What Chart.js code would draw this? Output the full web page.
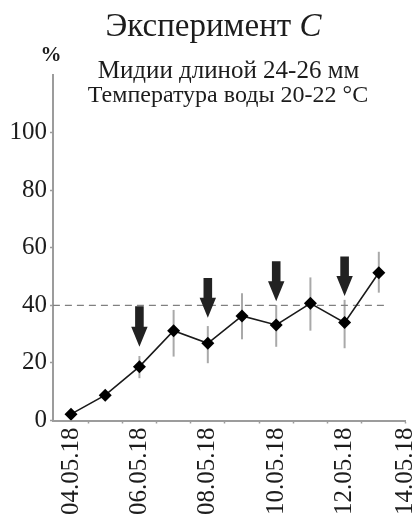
<!DOCTYPE html>
<html>
<head>
<meta charset="utf-8">
<script src="https://cdn.jsdelivr.net/npm/chart.js@4/dist/chart.umd.min.js"></script>
<style>
html,body{margin:0;padding:0;background:#fff;}
#wrap{width:419px;height:519px;}
</style>
</head>
<body>
<div id="wrap"><canvas id="c" width="419" height="519"></canvas></div>
<script>
// ---- data ----
const dates = ['04.05.18','05.05.18','06.05.18','07.05.18','08.05.18','09.05.18','10.05.18','11.05.18','12.05.18','13.05.18'];
const dayIndex = [0,1,2,3,4,5,6,7,8,9];
const values = [2.2, 8.8, 18.7, 31.2, 26.8, 36.3, 33.2, 40.7, 34.0, 51.3];
const errHigh = [2.2, 8.8, 22.4, 38.4, 32.8, 44.2, 40.1, 49.7, 41.9, 58.6];
const errLow  = [2.2, 8.8, 14.7, 22.2, 19.9, 28.2, 25.6, 31.2, 25.1, 44.4];
const arrowDays = [2, 4, 6, 8];
const arrowTop  = [39.7, 49.5, 55.3, 57.0];
const arrowTip  = [25.6, 35.7, 41.4, 43.2];
const refLevel = 40;
const refSpan = [-0.53, 9.24];
const xTickLabels = ['04.05.18','06.05.18','08.05.18','10.05.18','12.05.18','14.05.18'];
const xTickDays = [0, 2, 4, 6, 8, 10];
const xMinorDays = [0.5, 1.5, 2.5, 3.5, 4.5, 5.5, 6.5, 7.5, 8.5];
const yTickValues = [0, 20, 40, 60, 80, 100];
const xRange = [-0.527, 9.766];
const yRange = [0, 120];

const titleText = 'Эксперимент ';
const titleLetter = 'C';
const subLines = ['Мидии длиной 24-26 мм', 'Температура воды 20-22 °C'];
const yUnit = '%';

const SERIF = '"Liberation Serif", "Times New Roman", serif';
const TXT = '#1c1c1c';
const AXIS = '#9c9c9c';

const textPlugin = {
  id: 'texts',
  afterDraw(chart) {
    const ctx = chart.ctx;
    ctx.save();
    ctx.fillStyle = TXT;
    ctx.textBaseline = 'alphabetic';
    ctx.textAlign = 'left';
    ctx.font = '33px ' + SERIF;
    const w1 = ctx.measureText(titleText).width;
    ctx.font = 'italic 33px ' + SERIF;
    const w2 = ctx.measureText(titleLetter).width;
    const tx = 213.5 - (w1 + w2) / 2;
    ctx.font = '33px ' + SERIF;
    ctx.fillText(titleText, tx, 36);
    ctx.font = 'italic 33px ' + SERIF;
    ctx.fillText(titleLetter, tx + w1, 36);
    ctx.textAlign = 'center';
    ctx.font = '25px ' + SERIF;
    ctx.fillText(subLines[0], 228.5, 78);
    ctx.font = '24px ' + SERIF;
    ctx.fillText(subLines[1], 228, 102);
    ctx.font = 'bold 21px ' + SERIF;
    ctx.fillText(yUnit, 51, 61);
    ctx.restore();
  }
};

const errPlugin = {
  id: 'errbars',
  beforeDatasetsDraw(chart) {
    const ctx = chart.ctx, xs = chart.scales.x, ys = chart.scales.y;
    ctx.save();
    ctx.strokeStyle = '#a9a9a9';
    ctx.lineWidth = 2;
    dayIndex.forEach((d, i) => {
      if (errHigh[i] === errLow[i]) return;
      const x = xs.getPixelForValue(d);
      ctx.beginPath();
      ctx.moveTo(x, ys.getPixelForValue(errHigh[i]));
      ctx.lineTo(x, ys.getPixelForValue(errLow[i]));
      ctx.stroke();
    });
    ctx.restore();
  }
};

const arrowPlugin = {
  id: 'arrows',
  afterDatasetsDraw(chart) {
    const ctx = chart.ctx, xs = chart.scales.x, ys = chart.scales.y;
    ctx.save();
    ctx.fillStyle = '#222';
    arrowDays.forEach((d, i) => {
      const x = xs.getPixelForValue(d);
      const yt = ys.getPixelForValue(arrowTop[i]);
      const yp = ys.getPixelForValue(arrowTip[i]);
      const hs = 4.3, hh = 8.2, hl = 20;
      ctx.beginPath();
      ctx.moveTo(x - hs, yt);
      ctx.lineTo(x + hs, yt);
      ctx.lineTo(x + hs, yp - hl);
      ctx.lineTo(x + hh, yp - hl);
      ctx.lineTo(x, yp);
      ctx.lineTo(x - hh, yp - hl);
      ctx.lineTo(x - hs, yp - hl);
      ctx.closePath();
      ctx.fill();
    });
    ctx.restore();
  }
};

new Chart(document.getElementById('c'), {
  type: 'line',
  data: {
    datasets: [
      {
        data: dayIndex.map((d, i) => ({ x: d, y: values[i] })),
        borderColor: '#1a1a1a',
        borderWidth: 1.6,
        pointStyle: 'rectRot',
        pointRadius: 6.5,
        pointBackgroundColor: '#000',
        pointBorderColor: '#000',
        pointBorderWidth: 0,
        tension: 0,
        order: 1
      },
      {
        data: refSpan.map(x => ({ x: x, y: refLevel })),
        borderColor: '#808080',
        borderWidth: 1.2,
        borderDash: [7, 5],
        pointRadius: 0,
        order: 2
      }
    ]
  },
  options: {
    responsive: false,
    devicePixelRatio: 1,
    animation: false,
    layout: { padding: { top: 75, right: 14, left: 0, bottom: 0 } },
    plugins: { legend: { display: false }, tooltip: { enabled: false }, title: { display: false } },
    scales: {
      x: {
        type: 'linear',
        bounds: 'data',
        min: xRange[0],
        max: xRange[1],
        afterFit(scale) {
          scale.height = 98.5;
          scale.paddingLeft = 0; scale.paddingRight = 0;
          scale.paddingTop = 0; scale.paddingBottom = 0;
        },
        afterBuildTicks(scale) {
          const t = [];
          xMinorDays.forEach(v => t.push({ value: v, lbl: '', mark: true }));
          xTickDays.forEach((d, i) => {
            const v = Math.min(d, scale.max);
            t.push({ value: v, lbl: xTickLabels[i], mark: v === scale.max });
          });
          t.sort((a, b) => a.value - b.value);
          scale.ticks = t;
        },
        border: { display: true, color: AXIS, width: 2 },
        grid: {
          drawOnChartArea: false,
          drawTicks: true,
          tickLength: 3,
          tickWidth: 1.5,
          tickColor: (c) => (c.tick && c.tick.mark) ? AXIS : 'rgba(0,0,0,0)'
        },
        ticks: {
          autoSkip: false,
          minRotation: 90,
          maxRotation: 90,
          padding: 4,
          color: TXT,
          font: { family: SERIF, size: 25 },
          callback: function (value, index, ticks) { return ticks[index].lbl || ''; }
        }
      },
      y: {
        type: 'linear',
        min: yRange[0],
        max: yRange[1],
        afterFit(scale) {
          scale.width = 53;
          scale.paddingLeft = 0; scale.paddingRight = 0;
          scale.paddingTop = 0; scale.paddingBottom = 0;
        },
        afterBuildTicks(scale) {
          scale.ticks = yTickValues.map(v => ({ value: v }));
        },
        border: { display: true, color: AXIS, width: 2 },
        grid: {
          drawOnChartArea: false,
          drawTicks: true,
          tickLength: 3,
          tickWidth: 1.5,
          tickColor: AXIS
        },
        ticks: {
          padding: 3,
          color: TXT,
          font: { family: SERIF, size: 25 },
          callback: (v) => String(v)
        }
      }
    }
  },
  plugins: [errPlugin, arrowPlugin, textPlugin]
});
</script>
</body>
</html>
